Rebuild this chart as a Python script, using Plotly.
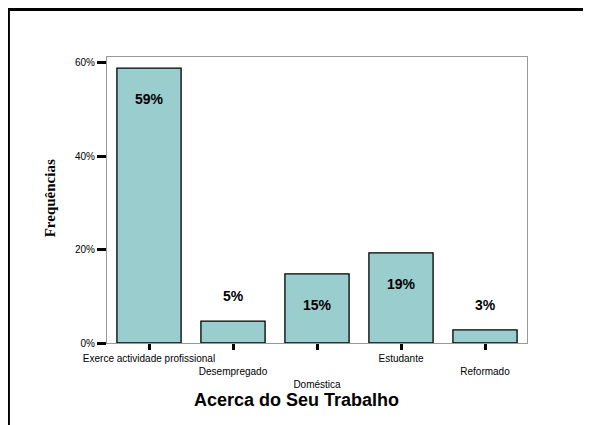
import plotly.graph_objects as go

categories = ["Exerce actividade profissional", "Desempregado", "Doméstica", "Estudante", "Reformado"]
tick_text = ["Exerce actividade profissional", "<br>Desempregado", "<br><br>Doméstica", "Estudante", "<br>Reformado"]
values = [58.8, 4.7, 14.8, 19.3, 2.8]
value_labels = ["59%", "5%", "15%", "19%", "3%"]
y_tickvals = [0, 20, 40, 60]
y_ticktext = ["0%", "20%", "40%", "60%"]

OFF = 8  # page body margin
W, H = 591 - OFF, 425 - OFF
# plot area in page pixel coordinates
PL, PR, PT, PB = 107, 526.7, 57, 343.3
L, T = PL - OFF, PT - OFF
R, B = W - (PR - OFF), H - (PB - OFF)
pw, ph = W - L - R, H - T - B

def px_x(p):
    return (p - PL) / pw

def px_y(p):
    return (PB - p) / ph

fig = go.Figure()
fig.add_trace(go.Bar(
    x=categories, y=values,
    marker=dict(color="#9ACDCD", line=dict(color="black", width=1.3)),
    hoverinfo="skip",
))

for c, v, lab in zip(categories, values, value_labels):
    inside = v > 10
    fig.add_annotation(x=c, y=v, text="<b>" + lab + "</b>", showarrow=False,
                       yshift=-31 if inside else 25, yanchor="middle",
                       font=dict(family="Arial, Liberation Sans", size=14, color="black"))

fig.update_layout(
    width=W, height=H,
    margin=dict(l=L, r=R, t=T, b=B, pad=0, autoexpand=False),
    paper_bgcolor="white", plot_bgcolor="white",
    bargap=0.236, showlegend=False,
    font=dict(family="Arial, Liberation Sans", size=10, color="black"),
)
fig.update_xaxes(
    tickmode="array", tickvals=categories, ticktext=tick_text, tickangle=0,
    showline=True, linecolor="#999999", linewidth=1, mirror=True,
    ticks="outside", ticklen=6, tickwidth=3, tickcolor="black",
    tickfont=dict(size=10), showgrid=False, zeroline=False, automargin=False,
)
fig.update_yaxes(
    range=[0, 61.2], tickmode="array", tickvals=y_tickvals, ticktext=y_ticktext,
    showline=True, linecolor="#999999", linewidth=1, mirror=True,
    ticks="outside", ticklen=9, tickwidth=3, tickcolor="black",
    tickfont=dict(size=10), showgrid=False, zeroline=False, automargin=False,
)

fig.add_annotation(text="<b>Acerca do Seu Trabalho</b>", xref="paper", yref="paper",
                   x=px_x(296.7), y=px_y(400), showarrow=False, xanchor="center", yanchor="middle",
                   font=dict(family="Arial, Liberation Sans", size=18, color="black"))
fig.add_annotation(text="<b>Frequências</b>", xref="paper", yref="paper", textangle=-90,
                   x=px_x(49.5), y=px_y(198), showarrow=False, xanchor="center", yanchor="middle",
                   font=dict(family="Times New Roman, Liberation Serif", size=15, color="black"))

# outer frame (top and left edges)
fig.add_shape(type="line", xref="paper", yref="paper", x0=px_x(7), x1=px_x(600), y0=px_y(9.5), y1=px_y(9.5),
              line=dict(color="black", width=3))
fig.add_shape(type="line", xref="paper", yref="paper", x0=px_x(8.5), x1=px_x(8.5), y0=px_y(8), y1=px_y(440),
              line=dict(color="black", width=3))

fig.write_html("out.html")
